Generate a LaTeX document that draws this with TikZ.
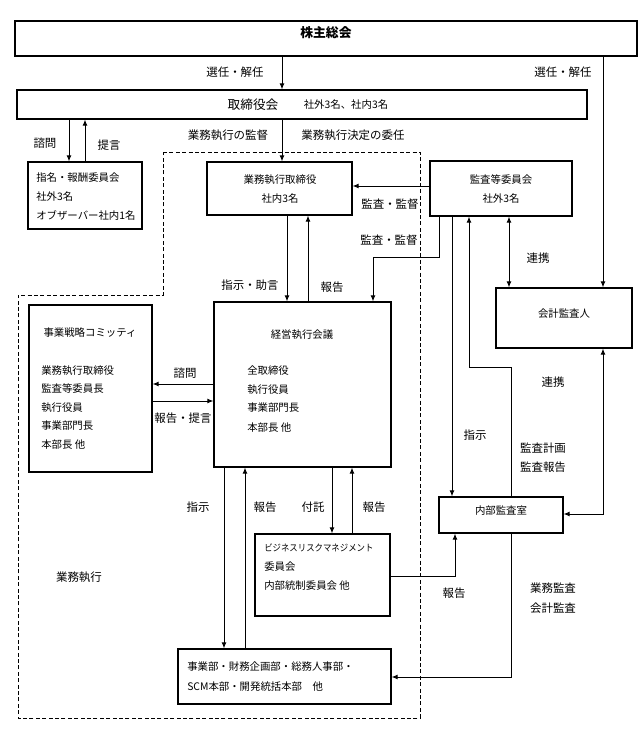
\documentclass[tikz,border=0pt]{standalone}
\usepackage{fontspec}
\setmainfont{Noto Sans CJK JP}
\usetikzlibrary{arrows.meta, positioning, fit}
\tikzset{
  >={Latex[length=4.5pt,width=3.6pt]},
  base/.style = {draw, line width=0.8pt, inner sep=0pt},
}

\begin{document}
\begin{tikzpicture}[x=0.75pt, y=-0.75pt,
    box/.style  = {base, rectangle},
    conn/.style = {line width=0.7pt},
    area/.style = {line width=0.7pt, dash pattern=on 3pt off 1.8pt},
    lbl/.style  = {inner sep=0pt, font=\fontsize{8.6}{10}\selectfont},
    ttl/.style  = {inner sep=0pt, font=\fontsize{7.8}{9}\selectfont},
    txt/.style  = {ttl, anchor=west},
  ]
  \useasboundingbox (0,0) rectangle (638,729);

  % boxes
  \node[box, fit={(15,21) (637,56)}, font=\fontsize{9.6}{11}\selectfont\bfseries] (kabu) {株主総会};

  \node[box, fit={(17,90) (587,119)}] (tori) {};
  \node[lbl, font=\fontsize{9.5}{11}\selectfont] (tori-t) at (253,105) {取締役会};
  \node[ttl] (tori-n) at (346,105) {社外3名、社内3名};

  \node[box, fit={(28,162) (142,229)}] (shimei) {};
  \node[txt] (shimei-1) at (36,178) {指名・報酬委員会};
  \node[txt] (shimei-2) at (36,197) {社外3名};
  \node[txt] (shimei-3) at (36,215) {オブザーバー社内1名};

  \node[box, fit={(207,162) (352,215)}] (gyomu) {};
  \node[ttl] (gyomu-1) at (280,180) {業務執行取締役};
  \node[ttl] (gyomu-2) at (280,199) {社内3名};

  \node[box, fit={(430,161) (572,216)}] (kansa) {};
  \node[ttl] (kansa-1) at (501,180) {監査等委員会};
  \node[ttl] (kansa-2) at (501,199) {社外3名};

  \node[box, fit={(496,288) (632,348)}, ttl] (kaikei) {会計監査人};

  \node[box, fit={(214,302) (391,467)}] (keiei) {};
  \node[ttl] (keiei-t) at (302,335) {経営執行会議};
  \node[txt] (keiei-1) at (247,371) {全取締役};
  \node[txt] (keiei-2) at (247,390) {執行役員};
  \node[txt] (keiei-3) at (247,408) {事業部門長};
  \node[txt] (keiei-4) at (247,428) {本部長 他};

  \node[box, fit={(29,305) (152,472)}] (senryaku) {};
  \node[ttl] (senryaku-t) at (90,333) {事業戦略コミッティ};
  \node[txt] (senryaku-1) at (41,371) {業務執行取締役};
  \node[txt] (senryaku-2) at (41,389) {監査等委員長};
  \node[txt] (senryaku-3) at (41,408) {執行役員};
  \node[txt] (senryaku-4) at (41,426) {事業部門長};
  \node[txt] (senryaku-5) at (41,445) {本部長 他};

  \node[box, fit={(439,497) (563,533)}, ttl] (naibu) {内部監査室};

  \node[box, fit={(255,534) (390,616)}] (risk) {};
  \node[txt] (risk-1) at (264,548) {\scalebox{0.9}[1]{\fontsize{7}{9}\selectfont ビジネスリスクマネジメント}};
  \node[txt] (risk-2) at (264,567) {委員会};
  \node[txt] (risk-3) at (264,586) {内部統制委員会 他};

  \node[box, fit={(178,649) (391,704)}] (jigyo) {};
  \node[txt] (jigyo-1) at (187,667) {事業部・財務企画部・総務人事部・};
  \node[txt] (jigyo-2) at (187,687) {SCM本部・開発統括本部\quad 他};

  % 業務執行の範囲
  \draw[area] (163,152) -- (420,152) -- (420,718) -- (18,718) -- (18,295) -- (163,295) -- cycle;
  \node[lbl] (shikko) at (79,577) {業務執行};

  % connectors
  \draw[conn, ->] (kabu.south -| 282,0) -- (tori.north -| 282,0);
  \node[lbl] (l-senin1) at (235,72) {選任・解任};
  \draw[conn, ->] (kabu.south -| 603,0) -- (kaikei.north -| 603,0);
  \node[lbl] (l-senin2) at (563,72) {選任・解任};

  \draw[conn, ->] (tori.south -| 69,0) -- (shimei.north -| 69,0);
  \draw[conn, ->] (shimei.north -| 85,0) -- (tori.south -| 85,0);
  \node[lbl] (l-shimon1) at (45,143) {諮問};
  \node[lbl] (l-teigen1) at (109,145) {提言};

  \draw[conn, ->] (tori.south -| 282,0) -- (gyomu.north -| 282,0);
  \node[lbl] (l-kantoku) at (228,135) {業務執行の監督};
  \node[lbl] (l-inin) at (353,135) {業務執行決定の委任};

  \draw[conn, ->] (gyomu.south -| 287,0) -- (keiei.north -| 287,0);
  \draw[conn, ->] (keiei.north -| 308,0) -- (gyomu.south -| 308,0);
  \node[lbl] (l-jogen) at (250,285) {指示・助言};
  \node[lbl] (l-hokoku1) at (332,287) {報告};

  \draw[conn, ->] (kansa.west |- 0,186) -- (gyomu.east |- 0,186);
  \node[lbl] (l-kansa1) at (390,204) {監査・監督};
  \draw[conn, ->] (kansa.south -| 439,0) -- (439,257) -- (373,257) -- (keiei.north -| 373,0);
  \node[lbl] (l-kansa2) at (389,240) {監査・監督};

  \draw[conn, <->] (kansa.south -| 509,0) -- (kaikei.north -| 509,0);
  \node[lbl] (l-renkei1) at (538,258) {連携};

  \draw[conn, ->] (kansa.south -| 452,0) -- (naibu.north -| 452,0);
  \node[lbl] (l-shiji1) at (475,435) {指示};
  \draw[conn, ->] (naibu.north -| 511,0) -- (511,367) -- (469,367) -- (kansa.south -| 469,0);
  \node[lbl] (l-keikaku) at (543,448) {監査計画};
  \node[lbl] (l-kansahokoku) at (543,467) {監査報告};

  \draw[conn, <->] (kaikei.south -| 603,0) -- (603,514) -- (naibu.east |- 0,514);
  \node[lbl] (l-renkei2) at (553,382) {連携};

  \draw[conn, ->] (keiei.west |- 0,384) -- (senryaku.east |- 0,384);
  \node[lbl] (l-shimon2) at (185,373) {諮問};
  \draw[conn, ->] (senryaku.east |- 0,401) -- (keiei.west |- 0,401);
  \node[lbl] (l-teigen2) at (183,418) {報告・提言};

  \draw[conn, ->] (keiei.south -| 224,0) -- (jigyo.north -| 224,0);
  \draw[conn, ->] (jigyo.north -| 245,0) -- (keiei.south -| 245,0);
  \node[lbl] (l-shiji2) at (198,507) {指示};
  \node[lbl] (l-hokoku2) at (265,507) {報告};

  \draw[conn, ->] (keiei.south -| 332,0) -- (risk.north -| 332,0);
  \draw[conn, ->] (risk.north -| 352,0) -- (keiei.south -| 352,0);
  \node[lbl] (l-futaku) at (313,507) {付託};
  \node[lbl] (l-hokoku3) at (374,507) {報告};

  \draw[conn, ->] (risk.east |- 0,576) -- (455,576) -- (naibu.south -| 455,0);
  \node[lbl] (l-hokoku4) at (454,593) {報告};

  \draw[conn, ->] (naibu.south -| 511,0) -- (511,677) -- (jigyo.east |- 0,677);
  \node[lbl] (l-gyomukansa) at (553,588) {業務監査};
  \node[lbl] (l-kaikeikansa) at (553,608) {会計監査};
\end{tikzpicture}
\end{document}
